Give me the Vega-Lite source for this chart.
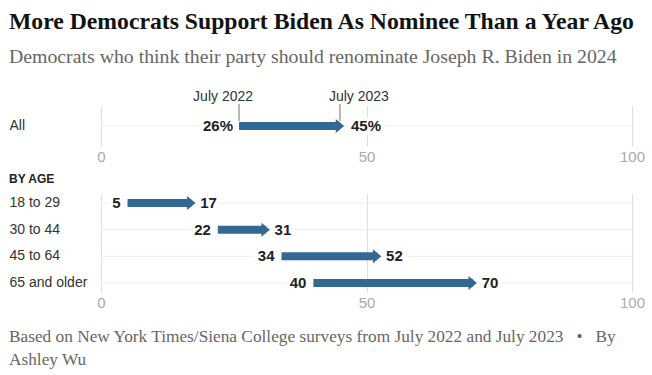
{
  "$schema": "https://vega.github.io/schema/vega-lite/v6.json",
  "padding": {"left": 9, "top": 9, "right": 5, "bottom": 4},
  "background": "white",
  "datasets": {
    "all": [
      {"group": "All", "start": 26, "end": 45, "startLabel": "26%", "endLabel": "45%"}
    ],
    "notes": [
      {"group": "All", "value": 26, "label": "July 2022"},
      {"group": "All", "value": 45, "label": "July 2023"}
    ],
    "age": [
      {"group": "18 to 29", "start": 5, "end": 17, "startLabel": "5", "endLabel": "17"},
      {"group": "30 to 44", "start": 22, "end": 31, "startLabel": "22", "endLabel": "31"},
      {"group": "45 to 64", "start": 34, "end": 52, "startLabel": "34", "endLabel": "52"},
      {"group": "65 and older", "start": 40, "end": 70, "startLabel": "40", "endLabel": "70"}
    ]
  },
  "title": {
    "text": "More Democrats Support Biden As Nominee Than a Year Ago",
    "subtitle": "Democrats who think their party should renominate Joseph R. Biden in 2024",
    "anchor": "start",
    "frame": "bounds",
    "font": "Liberation Serif",
    "fontSize": 23.7,
    "fontWeight": "bold",
    "color": "#121212",
    "subtitleFont": "Liberation Serif",
    "subtitleFontSize": 19.8,
    "subtitleColor": "#666666",
    "subtitlePadding": 14,
    "offset": 23
  },
  "vconcat": [
    {
      "title": {
        "text": ["Based on New York Times/Siena College surveys from July 2022 and July 2023\u00a0\u00a0\u00a0\u2022\u00a0\u00a0\u00a0By", "Ashley Wu"],
        "orient": "bottom",
        "anchor": "start",
        "frame": "bounds",
        "font": "Liberation Serif",
        "fontSize": 17.3,
        "fontWeight": "normal",
        "color": "#666666",
        "lineHeight": 23,
        "offset": 18
      },
      "spacing": 9,
      "vconcat": [
        {
          "width": 531,
          "height": 40,
          "encoding": {
            "y": {"field": "group", "type": "nominal", "title": null}
          },
          "layer": [
            {
              "data": {"name": "all"},
              "mark": {"type": "rule", "color": "#eeeeee", "strokeWidth": 1},
              "encoding": {
                "x": {"datum": 0, "type": "quantitative", "scale": {"domain": [0, 100]}, "title": null},
                "x2": {"datum": 100}
              }
            },
            {
              "data": {"name": "notes"},
              "mark": {"type": "tick", "orient": "vertical", "color": "#555555", "thickness": 1.2, "yOffset": -13.5},
              "encoding": {
                "x": {"field": "value", "type": "quantitative", "title": null},
                "size": {"value": 17}
              }
            },
            {
              "data": {"name": "notes"},
              "transform": [{"filter": "datum.value < 30"}],
              "mark": {"type": "text", "align": "right", "dx": 14, "yOffset": -29, "font": "Liberation Sans", "fontSize": 14, "color": "#333333"},
              "encoding": {
                "x": {"field": "value", "type": "quantitative", "title": null},
                "text": {"field": "label"}
              }
            },
            {
              "data": {"name": "notes"},
              "transform": [{"filter": "datum.value > 30"}],
              "mark": {"type": "text", "align": "left", "dx": -11, "yOffset": -29, "font": "Liberation Sans", "fontSize": 14, "color": "#333333"},
              "encoding": {
                "x": {"field": "value", "type": "quantitative", "title": null},
                "text": {"field": "label"}
              }
            },
            {
              "data": {"name": "all"},
              "mark": {"type": "bar", "height": 8, "color": "#326891"},
              "encoding": {
                "x": {"field": "start", "type": "quantitative", "title": null},
                "x2": {"field": "end"}
              }
            },
            {
              "data": {"name": "all"},
              "mark": {"type": "point", "shape": "M-0.6,-1L0.6,0L-0.6,1Z", "filled": true, "opacity": 1, "color": "#326891", "size": 196},
              "encoding": {
                "x": {"field": "end", "type": "quantitative", "title": null}
              }
            },
            {
              "data": {"name": "all"},
              "mark": {"type": "text", "align": "right", "dx": -6, "font": "Liberation Sans", "fontSize": 15, "fontWeight": "bold", "color": "white", "stroke": "white", "strokeWidth": 8},
              "encoding": {
                "x": {"field": "start", "type": "quantitative", "title": null},
                "text": {"field": "startLabel"}
              }
            },
            {
              "data": {"name": "all"},
              "mark": {"type": "text", "align": "left", "dx": 11, "font": "Liberation Sans", "fontSize": 15, "fontWeight": "bold", "color": "white", "stroke": "white", "strokeWidth": 8},
              "encoding": {
                "x": {"field": "end", "type": "quantitative", "title": null},
                "text": {"field": "endLabel"}
              }
            },
            {
              "data": {"name": "all"},
              "mark": {"type": "text", "align": "right", "dx": -6, "font": "Liberation Sans", "fontSize": 15, "fontWeight": "bold", "color": "#222222"},
              "encoding": {
                "x": {"field": "start", "type": "quantitative", "title": null},
                "text": {"field": "startLabel"}
              }
            },
            {
              "data": {"name": "all"},
              "mark": {"type": "text", "align": "left", "dx": 11, "font": "Liberation Sans", "fontSize": 15, "fontWeight": "bold", "color": "#222222"},
              "encoding": {
                "x": {"field": "end", "type": "quantitative", "title": null},
                "text": {"field": "endLabel"}
              }
            }
          ]
        },
        {
          "title": {
            "text": "BY AGE",
            "anchor": "start",
            "frame": "bounds",
            "font": "Liberation Sans",
            "fontSize": 12,
            "fontWeight": "bold",
            "color": "#222222",
            "offset": 8
          },
          "width": 531,
          "height": 98,
          "data": {"name": "age"},
          "encoding": {
            "y": {"field": "group", "type": "nominal", "title": null, "sort": null, "scale": {"paddingInner": 0.325, "paddingOuter": 0}}
          },
          "layer": [
            {
              "mark": {"type": "rule", "color": "#eeeeee", "strokeWidth": 1},
              "encoding": {
                "x": {"datum": 0, "type": "quantitative", "scale": {"domain": [0, 100]}, "title": null},
                "x2": {"datum": 100}
              }
            },
            {
              "mark": {"type": "bar", "height": 8, "color": "#326891"},
              "encoding": {
                "x": {"field": "start", "type": "quantitative", "title": null},
                "x2": {"field": "end"}
              }
            },
            {
              "mark": {"type": "point", "shape": "M-0.6,-1L0.6,0L-0.6,1Z", "filled": true, "opacity": 1, "color": "#326891", "size": 196},
              "encoding": {
                "x": {"field": "end", "type": "quantitative", "title": null}
              }
            },
            {
              "mark": {"type": "text", "align": "right", "dx": -7, "font": "Liberation Sans", "fontSize": 15, "fontWeight": "bold", "color": "white", "stroke": "white", "strokeWidth": 8},
              "encoding": {
                "x": {"field": "start", "type": "quantitative", "title": null},
                "text": {"field": "startLabel"}
              }
            },
            {
              "mark": {"type": "text", "align": "left", "dx": 9, "font": "Liberation Sans", "fontSize": 15, "fontWeight": "bold", "color": "white", "stroke": "white", "strokeWidth": 8},
              "encoding": {
                "x": {"field": "end", "type": "quantitative", "title": null},
                "text": {"field": "endLabel"}
              }
            },
            {
              "mark": {"type": "text", "align": "right", "dx": -7, "font": "Liberation Sans", "fontSize": 15, "fontWeight": "bold", "color": "#222222"},
              "encoding": {
                "x": {"field": "start", "type": "quantitative", "title": null},
                "text": {"field": "startLabel"}
              }
            },
            {
              "mark": {"type": "text", "align": "left", "dx": 9, "font": "Liberation Sans", "fontSize": 15, "fontWeight": "bold", "color": "#222222"},
              "encoding": {
                "x": {"field": "end", "type": "quantitative", "title": null},
                "text": {"field": "endLabel"}
              }
            }
          ]
        }
      ]
    }
  ],
  "config": {
    "view": {"stroke": null},
    "axis": {"domain": false, "ticks": false, "grid": false, "labelFont": "Liberation Sans"},
    "axisX": {"grid": true, "gridColor": "#dddddd", "tickCount": 2, "labelFontSize": 15, "labelColor": "#aaaaaa", "labelPadding": 3, "labelFlush": false},
    "axisY": {"labelAlign": "left", "labelPadding": 92, "labelFontSize": 14, "labelColor": "#333333"}
  }
}
